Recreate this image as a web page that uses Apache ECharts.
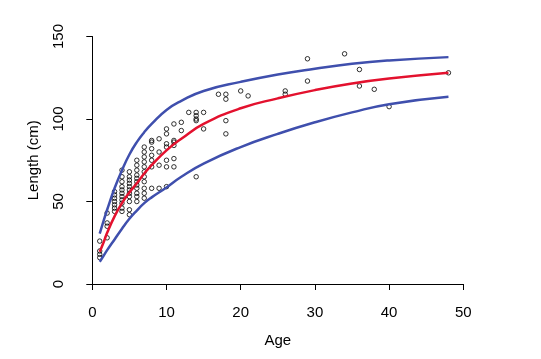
<!DOCTYPE html>
<html>
<head>
<meta charset="utf-8">
<script src="https://cdn.jsdelivr.net/npm/echarts@6/dist/echarts.min.js"></script>
<style>html,body{margin:0;padding:0;background:#fff;}#c{width:541px;height:359px;}</style>
</head>
<body>
<div id="c"></div>
<script>
// Observed points: [age, length]
var obsAges = [1,1,1,1, 2,2,2,2, 3,3,3,3,3,3,3,
  4,4,4,4,4,4,4,4,4,4,4, 5,5,5,5,5,5,5,5,5,5,5,
  6,6,6,6,6,6,6,6,6,6,6, 7,7,7,7,7,7,7,7,7,7,7,
  8,8,8,8,8,8,8, 9,9,9,9, 10,10,10,10,10,10,10,
  11,11,11,11,11,11, 12,12, 13, 14,14,14,14,14, 15,15,
  17, 18,18,18,18, 20, 21, 26,26, 29,29, 34, 36,36, 38, 40, 48];
var obsLengths = [16,18,20,26, 28,35,37,43, 44,46,48,50,52,54,56,
  44,46,49,51,53,55,57,59,62,65,69, 42,45,50,53,55,57,59,61,63,65,68,
  50,53,55,58,60,62,64,66,69,72,75, 52,55,58,62,65,68,71,74,77,80,83,
  58,71,75,78,82,86,87, 58,72,80,88, 59,71,75,83,85,91,94,
  71,76,84,86,87,97, 93,98, 104, 65,99,100,102,104, 94,104,
  115, 91,99,112,115, 117, 114, 115,117, 123,136.5, 139.5, 120,130, 118, 107.5, 128];

// Fitted curve (red) and bounds (blue)
var curveAges = [1,1.5,2,3,4,5,6,7,8,10,12,15,20,25,30,35,40,48];
var fitLength = [19.5,25,31,41,49,55.5,61,67,72,81,88,97,106.5,112.5,117.5,121.5,124.5,128];
var upperLength = [30.5,38,45,58,69,78.5,86,92,97,105.5,111,117,122.5,127,130.5,133.5,135.5,137.5];
var lowerLength = [13.5,17,20.5,27,33.5,39.5,44.5,49,52.5,58.5,65,73,83,91,98,104,109,113.5];

var xTicks = [0,10,20,30,40,50];
var yTicks = [0,50,100,150];

function pairs(xs, ys){ return xs.map(function(x,i){ return [x, ys[i]]; }); }

var FONT = 'Liberation Sans, Arial, sans-serif';
var chart = echarts.init(document.getElementById('c'), null, {renderer:'canvas'});
chart.setOption({
  animation:false,
  backgroundColor:'#ffffff',
  grid:{left:92.3, right:77.7, top:36.5, bottom:75},
  xAxis:{
    type:'value', min:xTicks[0], max:xTicks[xTicks.length-1], interval:10,
    offset:10,
    name:'Age', nameLocation:'middle', nameGap:39,
    nameTextStyle:{fontFamily:FONT, fontSize:15, color:'#000'},
    axisLine:{show:true, lineStyle:{color:'#000', width:1}},
    axisTick:{show:true, length:6, lineStyle:{color:'#000'}},
    axisLabel:{fontFamily:FONT, fontSize:15, color:'#000', margin:11},
    splitLine:{show:false}
  },
  yAxis:{
    type:'value', min:yTicks[0], max:yTicks[yTicks.length-1], interval:50,
    offset:15.3,
    name:'Length (cm)', nameLocation:'middle', nameGap:36, nameRotate:90,
    nameTextStyle:{fontFamily:FONT, fontSize:15, color:'#000'},
    axisLine:{show:true, lineStyle:{color:'#000', width:1}},
    axisTick:{show:true, length:6, lineStyle:{color:'#000'}},
    axisLabel:{fontFamily:FONT, fontSize:15, color:'#000', margin:11, rotate:90},
    splitLine:{show:false}
  },
  series:[
    {type:'scatter', data:pairs(obsAges, obsLengths), symbol:'circle', symbolSize:4.5,
     itemStyle:{color:'rgba(0,0,0,0)', borderColor:'#000', borderWidth:1}, z:2},
    {type:'line', data:pairs(curveAges, fitLength), smooth:0.5, showSymbol:false,
     lineStyle:{color:'#e3112e', width:2.5}, z:3},
    {type:'line', data:pairs(curveAges, upperLength), smooth:0.5, showSymbol:false,
     lineStyle:{color:'#3f4fad', width:2.5}, z:3},
    {type:'line', data:pairs(curveAges, lowerLength), smooth:0.5, showSymbol:false,
     lineStyle:{color:'#3f4fad', width:2.5}, z:3}
  ]
});
</script>
</body>
</html>
